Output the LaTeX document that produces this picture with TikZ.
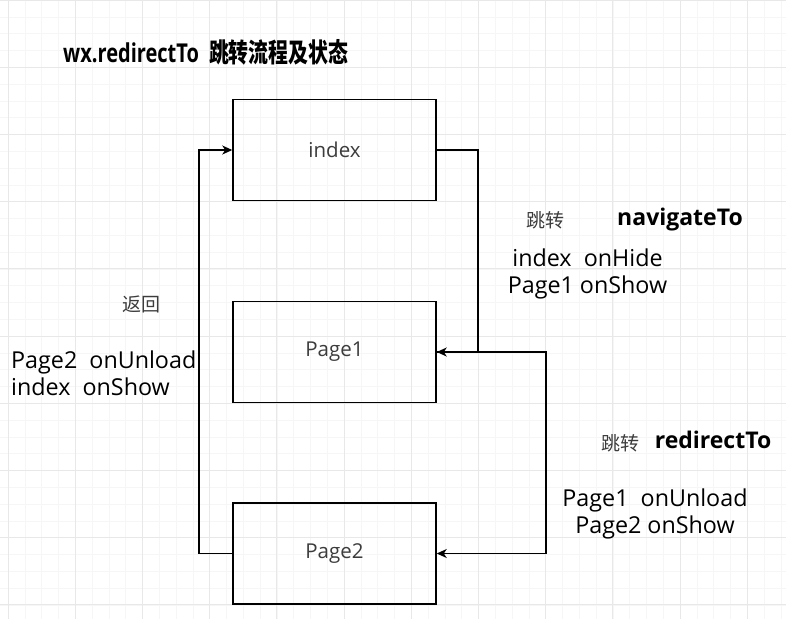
\documentclass[tikz,border=0pt]{standalone}
\usepackage{graphicx}
\usepackage{fontspec}
\setmainfont{Open Sans}
\newfontfamily\cjk{Noto Sans CJK SC}
\usetikzlibrary{arrows.meta,positioning}
\definecolor{boxtext}{RGB}{60,60,60}
\definecolor{gridmajor}{RGB}{232,232,232}
\definecolor{gridminor}{RGB}{246,246,246}
\tikzstyle{pagebox} = [rectangle, draw=black, line width=1.5pt, minimum width=203pt, minimum height=101pt, text=boxtext, font=\fontsize{20.5}{24}\selectfont]
\tikzstyle{arrow} = [line width=1.5pt, -{Stealth[length=10pt,width=9pt,inset=3pt]}]
\tikzstyle{note} = [inner sep=0pt, align=center, font=\fontsize{23.3}{27}\selectfont]
\tikzstyle{jump} = [inner sep=0pt, text=boxtext, font=\cjk\fontsize{19}{22}\selectfont]
\tikzstyle{kind} = [inner sep=0pt, font=\bfseries\fontsize{23}{27}\selectfont]

\begin{document}
\begin{tikzpicture}[x=1pt, y=-1pt]
% background grid
\useasboundingbox (0,0) rectangle (786,619);
\fill[white] (0,0) rectangle (786,619);
\foreach \gx in {8,24.8,...,786} \draw[gridminor, line width=0.6pt] (\gx,0) -- (\gx,619);
\foreach \gy in {0,16.8,...,619} \draw[gridminor, line width=0.6pt] (0,\gy) -- (786,\gy);
\foreach \gx in {8,75.2,...,786} \draw[gridmajor, line width=0.8pt] (\gx,0) -- (\gx,619);
\foreach \gy in {0,67.2,...,619} \draw[gridmajor, line width=0.8pt] (0,\gy) -- (786,\gy);

% title
\node[anchor=west, inner sep=0pt, font=\bfseries\fontsize{26}{30}\selectfont] (title) at (63,52)
  {\scalebox{0.77}[1]{wx.redirectTo}\hspace{10pt}\scalebox{0.75}[1]{\cjk\bfseries\fontsize{26.5}{30}\selectfont 跳转流程及状态}};

% pages
\node[pagebox] (index) at (334.5,150) {index};
\node[pagebox] (Page1) at (334.5,352) {Page1};
\node[pagebox] (Page2) at (334.5,553.5) {Page2};

% turning points
\coordinate (navturn) at (478,352);
\coordinate (redturn) at (546,352);
\coordinate (backturn) at (199,553.5);

% navigateTo
\draw[arrow] (index.east) -| (navturn) -- (Page1.east);
\node[jump] (navjump) at (545.5,220) {跳转};
\node[kind] (navkind) at (680,220) {navigateTo};
\node[note] (navnote) at (587.5,273.5) {index\ \ onHide\\Page1 onShow};

% redirectTo
\draw[arrow] (Page1.east) -- (redturn) |- (Page2.east);
\node[jump] (redjump) at (620,443) {跳转};
\node[kind] (redkind) at (713,440) {redirectTo};
\node[note] (rednote) at (655,513.5) {Page1\ \ onUnload\\Page2 onShow};

% back
\draw[arrow] (Page2.west) -- (backturn) |- (index.west);
\node[jump] (backjump) at (141,304) {返回};
\node[note, align=left, anchor=west] (backnote) at (11,373.5) {Page2\ \ onUnload\\index\ \ onShow};
\end{tikzpicture}
\end{document}
